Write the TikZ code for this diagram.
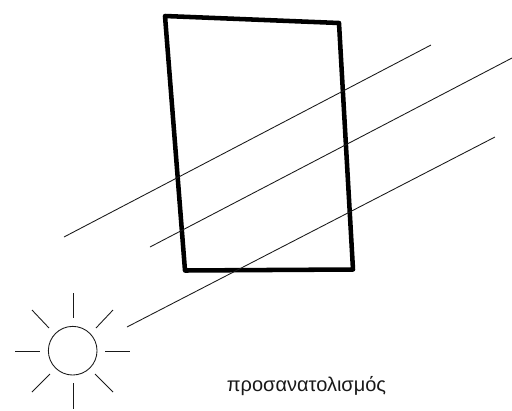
\documentclass[tikz,border=0pt]{standalone}
\usepackage{fontspec}
\setmainfont{Liberation Sans}
\tikzset{frame/.style={line width=3.4pt,line join=round,black},ray/.style={line width=0.65pt,black!90},
lbl/.style={font=\fontsize{15}{17}\selectfont,inner sep=0pt,anchor=center,text=black!90}}
\begin{document}
\begin{tikzpicture}[x=0.75pt,y=-0.75pt]
\useasboundingbox (0,0) rectangle (512,411);
\draw[frame] (165,16) -- (339,23) -- (353,269.5) -- (185,270.5) -- cycle;
\coordinate (r1a) at (64,237); \coordinate (r1b) at (431,45);
\coordinate (r2a) at (150,247); \coordinate (r2b) at (512,58);
\coordinate (r3a) at (127,327); \coordinate (r3b) at (495,137);
\draw[ray] (r1a) -- (r1b);
\draw[ray] (r2a) -- (r2b);
\draw[ray] (r3a) -- (r3b);
\node[draw=black!90,circle,minimum size=36.5pt,inner sep=0pt,line width=0.65pt] (sun) at (72.7,350.7) {};
\foreach \a/\b/\c/\d in {73/293/73/318, 73/383/73/409, 15/351/40/351, 105/351/130/351, 32/310/49/328, 113/310/96/328, 32/392/50/374, 113/392/95/374}
  \draw[ray] (\a,\b) -- (\c,\d);
\node[lbl] (t) at (306.5,386) {προσανατολισμός};
\end{tikzpicture}
\end{document}
